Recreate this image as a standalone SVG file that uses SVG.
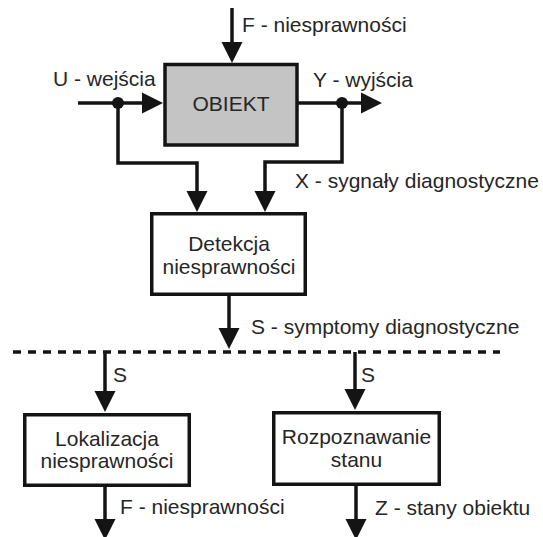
<svg xmlns="http://www.w3.org/2000/svg" width="543" height="537" viewBox="0 0 543 537">
  <style>
    .box { fill: #ffffff; stroke: #141414; stroke-width: 3.5; }
    .obj { fill: #c4c4c4; }
    .wire { fill: none; stroke: #141414; stroke-width: 3.5; stroke-linejoin: miter; }
    .dash { fill: none; stroke: #141414; stroke-width: 3.5; stroke-dasharray: 8 7; }
    .lbl { font-family: "Liberation Sans", Arial, sans-serif; font-size: 21px; fill: #262626; }
    .mid { text-anchor: middle; }
    .dot { fill: #141414; }
  </style>
  <defs>
    <marker id="arrow" markerUnits="userSpaceOnUse" markerWidth="21" markerHeight="21" refX="1" refY="10.5" orient="auto" overflow="visible">
      <path d="M0,0 L21,10.5 L0,21 Z" fill="#141414"/>
    </marker>
  </defs>

  <!-- connectors -->
  <g id="connectors">
    <line class="wire" x1="232" y1="8" x2="232" y2="43" marker-end="url(#arrow)"/>
    <line class="wire" x1="78" y1="103" x2="143" y2="103" marker-end="url(#arrow)"/>
    <polyline class="wire" points="118,103 118,163 197,163 197,192" marker-end="url(#arrow)"/>
    <line class="wire" x1="298" y1="103" x2="362" y2="103" marker-end="url(#arrow)"/>
    <polyline class="wire" points="342,103 342,162 265,162 265,192" marker-end="url(#arrow)"/>
    <line class="wire" x1="229" y1="296" x2="229" y2="329" marker-end="url(#arrow)"/>
    <line class="dash" x1="13" y1="352" x2="500" y2="352"/>
    <line class="wire" x1="105" y1="352" x2="105" y2="392" marker-end="url(#arrow)"/>
    <line class="wire" x1="355" y1="352" x2="355" y2="390" marker-end="url(#arrow)"/>
    <line class="wire" x1="105" y1="487" x2="105" y2="520" marker-end="url(#arrow)"/>
    <line class="wire" x1="356" y1="486" x2="356" y2="520" marker-end="url(#arrow)"/>
    <circle class="dot" cx="118" cy="103" r="6"/>
    <circle class="dot" cx="342" cy="103" r="6"/>
    <text class="lbl" x="242" y="32">F - niesprawności</text>
    <text class="lbl" x="53" y="86">U - wejścia</text>
    <text class="lbl" x="313" y="87">Y - wyjścia</text>
    <text class="lbl" x="295" y="188">X - sygnały diagnostyczne</text>
    <text class="lbl" x="251" y="334">S - symptomy diagnostyczne</text>
    <text class="lbl" x="113" y="382">S</text>
    <text class="lbl" x="361" y="382">S</text>
    <text class="lbl" x="120" y="514">F - niesprawności</text>
    <text class="lbl" x="375" y="515">Z - stany obiektu</text>
  </g>

  <!-- nodes -->
  <g id="obiekt">
    <rect class="box obj" x="165" y="64.5" width="132" height="80.5"/>
    <text class="lbl mid" x="231" y="111">OBIEKT</text>
  </g>
  <g id="detekcja">
    <rect class="box" x="151.75" y="213.75" width="153.5" height="80.5"/>
    <text class="lbl mid" x="229" y="251">Detekcja</text>
    <text class="lbl mid" x="229" y="274">niesprawności</text>
  </g>
  <g id="lokalizacja">
    <rect class="box" x="24.75" y="414.75" width="164.5" height="70.5"/>
    <text class="lbl mid" x="107" y="446">Lokalizacja</text>
    <text class="lbl mid" x="107" y="468">niesprawności</text>
  </g>
  <g id="rozpoznawanie">
    <rect class="box" x="273.75" y="412.75" width="165.5" height="71.5"/>
    <text class="lbl mid" x="356.5" y="444">Rozpoznawanie</text>
    <text class="lbl mid" x="356.5" y="467">stanu</text>
  </g>
</svg>
